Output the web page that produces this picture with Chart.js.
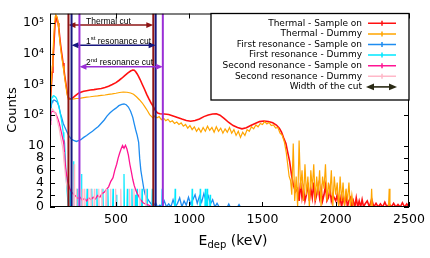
<!DOCTYPE html>
<html>
<head>
<meta charset="utf-8">
<script src="https://cdn.jsdelivr.net/npm/chart.js@4/dist/chart.umd.min.js"></script>
<style>
  html, body { margin: 0; padding: 0; background: #fff; }
  #wrap { width: 430px; height: 258px; }
</style>
</head>
<body>
<div id="wrap"><canvas id="grafico"></canvas></div>
<script>
// ---- data: [E_dep (keV), counts] ----
const thermalSampleOn = [[50,160],[55,420],[60,1000],[65,2500],[70,6000],[75,14000],[80,40000],[85,110000],[90,165000],[95,160000],[100,135000],[105,100000],[110,70000],[116,36000],[122,20000],[128,12000],[134,7500],[139,5000],[145,3200],[150,2000],[156,1300],[162,830],[167,560],[172,420],[180,350],[190,340],[200,350],[215,400],[230,460],[245,520],[260,560],[280,600],[300,630],[325,660],[350,680],[375,710],[400,740],[425,800],[450,880],[475,1000],[500,1150],[520,1350],[540,1600],[560,1950],[580,2350],[600,2750],[615,2950],[625,2900],[635,2600],[645,2200],[655,1800],[665,1450],[680,1000],[695,700],[710,480],[725,340],[740,250],[755,190],[770,140],[785,118],[800,112],[830,110],[860,105],[890,95],[920,85],[950,75],[980,67],[1010,64],[1040,67],[1070,75],[1100,90],[1130,102],[1160,110],[1185,112],[1210,100],[1240,78],[1270,58],[1300,46],[1330,40],[1360,36],[1390,39],[1420,46],[1450,54],[1480,62],[1510,65],[1540,62],[1570,57],[1595,48],[1615,38],[1630,28],[1645,18],[1660,12],[1672,9],[1685,7.5],[1700,5],[1712,3.5],[1725,2.5],[1740,3],[1750,1],[1760,4],[1770,1.5],[1780,3],[1790,1],[1800,2],[1810,4],[1820,1],[1830,3],[1840,1.5],[1850,4],[1860,1],[1870,2],[1880,3.5],[1890,1.5],[1900,3],[1910,1],[1920,2],[1930,3.5],[1940,1],[1950,1.5],[1960,3],[1970,1],[1980,2],[1990,1.5],[2000,1],[2010,2],[2020,0.5],[2030,1.5],[2040,0],[2050,1.5],[2060,0.5],[2070,2],[2080,0],[2090,1],[2100,1.5],[2110,0],[2120,1],[2130,0],[2140,1.5],[2150,0],[2160,1],[2170,0],[2180,1.2],[2190,0],[2200,0.5],[2215,1],[2230,0],[2245,1.3],[2260,0],[2275,0.6],[2290,0],[2305,0.5],[2320,0],[2335,0.8],[2350,0],[2365,0.5],[2380,0],[2395,0.6],[2410,0],[2425,0.4],[2440,0],[2455,0.7],[2470,0],[2485,0.5],[2500,0]];

const thermalDummy = [[50,180],[55,600],[60,1500],[65,4000],[70,10000],[75,30000],[80,80000],[85,160000],[90,185000],[95,170000],[100,140000],[105,100000],[110,62000],[116,30000],[122,16000],[128,9500],[134,6000],[139,4000],[145,2600],[150,1700],[156,1050],[162,680],[167,470],[172,380],[180,340],[190,330],[200,335],[215,340],[230,350],[245,355],[260,362],[280,375],[300,390],[325,400],[350,415],[375,425],[400,440],[425,455],[450,475],[475,495],[500,520],[525,550],[550,570],[575,560],[600,530],[620,480],[640,400],[660,320],[680,250],[700,180],[715,140],[730,105],[745,88],[755,80],[765,95],[780,82],[795,90],[810,72],[825,80],[840,66],[855,74],[870,60],[885,66],[900,54],[915,60],[930,50],[945,56],[960,44],[975,50],[990,38],[1005,46],[1020,34],[1035,42],[1050,30],[1065,38],[1080,28],[1095,40],[1110,30],[1125,44],[1140,32],[1155,40],[1170,28],[1185,42],[1200,30],[1215,38],[1230,26],[1245,36],[1260,28],[1275,40],[1290,26],[1305,34],[1320,22],[1335,30],[1350,19],[1365,28],[1380,22],[1395,34],[1410,30],[1425,42],[1440,36],[1455,48],[1470,42],[1485,54],[1500,50],[1515,62],[1530,52],[1545,58],[1560,46],[1575,48],[1590,38],[1605,40],[1620,26],[1635,22],[1650,13],[1662,9],[1672,7],[1682,5],[1692,4.3],[1700,2],[1710,12],[1720,1],[1730,5],[1740,0],[1750,15],[1760,3],[1770,6],[1780,1],[1790,7],[1800,2],[1810,5],[1820,0],[1830,6],[1840,3],[1850,7],[1860,1],[1870,5],[1880,2],[1890,6],[1900,0],[1910,5],[1920,3],[1930,7],[1940,1],[1950,4],[1960,2],[1970,6],[1980,0],[1990,5],[2000,2],[2010,4],[2020,0],[2030,5],[2040,1],[2050,4],[2060,0],[2070,3],[2080,1],[2090,4],[2100,0],[2110,2],[2120,0],[2240,0],[2245,3],[2250,0],[2360,0],[2365,3],[2370,0],[2500,0]];

const firstResSampleOn = [[50,70],[55,150],[60,220],[65,270],[70,300],[75,310],[80,310],[85,300],[90,290],[96,280],[102,250],[110,200],[116,150],[122,110],[128,90],[134,70],[140,55],[150,42],[160,33],[170,26],[180,21],[190,18],[200,16],[215,15],[230,14],[245,15],[260,16],[280,19],[300,22],[320,26],[340,30],[360,36],[380,43],[400,55],[420,70],[440,95],[460,120],[480,145],[500,170],[520,205],[540,225],[555,232],[570,220],[585,185],[600,135],[615,85],[625,52],[635,33],[645,22],[655,13],[662,8],[670,6],[680,4.5],[690,3],[700,2],[712,1.5],[725,1],[740,0.5],[755,0],[770,0.7],[785,0],[800,0.3],[815,0],[830,1],[845,0],[860,0.5],[875,0],[890,1.2],[905,0],[920,0.6],[935,1.5],[950,0],[965,1],[980,0.3],[995,1.6],[1010,0.5],[1025,1.2],[1040,2],[1055,0.6],[1070,1.8],[1085,0.8],[1100,2.2],[1115,1],[1130,1.8],[1145,0.5],[1160,1.2],[1175,0],[1190,0.6],[1205,0],[1260,0],[1270,0.5],[1280,0],[1330,0],[1340,0.4],[1350,0]];

const firstResDummy = [[50,100],[55,220],[60,330],[65,390],[70,420],[75,430],[80,420],[85,400],[90,380],[96,340],[102,280],[110,200],[116,140],[122,100],[128,70],[134,45],[140,28],[145,18],[150,12],[155,8],[160,5],[165,3],[170,1.5],[175,0],[185,0],[188,3],[191,0],[209,0],[212,7.5],[215,0],[232,0],[235,3],[238,0],[262,0],[265,5.4],[268,0],[300,0],[303,3],[306,0],[332,0],[335,3],[338,0],[367,0],[370,3],[373,0],[408,0],[411,3],[414,0],[442,0],[445,3],[448,0],[477,0],[480,3],[483,0],[500,0],[503,2],[506,0],[552,0],[555,5.4],[558,0],[575,0],[578,3],[581,0],[606,0],[609,3],[612,0],[630,0],[633,2],[636,0],[641,0],[644,3],[647,0],[675,0],[678,3],[681,0],[709,0],[712,3],[715,0],[745,0],[748,3],[751,0],[812,0],[815,3],[818,0],[901,0],[904,3],[907,0],[1017,0],[1020,3],[1023,0],[1072,0],[1075,3],[1078,0],[1107,0],[1110,3],[1113,0],[1120,0],[1123,3],[1126,0],[1140,0],[1143,2],[1146,0]];

const secondResSampleOn = [[50,50],[55,100],[60,125],[65,135],[70,135],[75,130],[80,128],[85,120],[90,110],[96,95],[102,80],[110,62],[116,48],[122,36],[128,27],[134,20],[140,15],[145,11],[150,8.5],[156,6.5],[162,5.5],[168,4.5],[175,3.8],[185,3],[195,2.5],[210,2.1],[225,1.8],[240,1.4],[255,1.6],[270,1.1],[285,1.4],[300,1],[315,1.5],[330,1.2],[345,1.6],[360,1.3],[375,1.9],[390,1.6],[405,2.2],[420,2.4],[435,2.9],[450,3.3],[465,4.2],[480,4.8],[492,6],[505,7],[515,8],[525,8.8],[535,9.5],[545,10.3],[555,9.6],[565,10.5],[575,9.5],[585,8.5],[595,7],[605,5.8],[615,4.5],[625,3.5],[635,2.8],[645,2.2],[655,1.8],[665,1.3],[675,1],[685,0.7],[700,0.5],[715,0.4],[733,0.2],[750,0],[790,0]];

const secondResDummy = [[50,80],[55,140],[60,160],[65,160],[70,150],[75,140],[80,130],[85,115],[90,100],[96,80],[102,60],[110,42],[116,30],[122,20],[128,14],[134,10.5],[140,9],[145,7.5],[150,6.5],[156,5],[162,4],[168,3],[174,1.5],[180,0],[195,0],[198,3],[201,0],[212,0],[215,7],[218,0],[228,0],[231,3],[234,0],[246,0],[249,3],[252,0],[268,0],[271,3],[274,0],[284,0],[287,3],[290,0],[310,0],[313,3],[316,0],[326,0],[329,3],[332,0],[350,0],[353,3],[356,0],[380,0],[383,3],[386,0],[400,0],[403,3],[406,0],[430,0],[433,3],[436,0],[460,0],[463,3],[466,0],[495,0],[498,3],[501,0],[530,0],[533,3],[536,0],[590,0],[593,3],[596,0],[620,0],[623,3],[626,0],[660,0],[663,3],[666,0],[700,0],[703,3],[706,0],[720,0]];

const seriesNames = ['Thermal - Sample on', 'Thermal - Dummy', 'First resonance - Sample on', 'First resonance - Dummy', 'Second resonance - Sample on', 'Second resonance - Dummy'];
const seriesData = [thermalSampleOn, thermalDummy, firstResSampleOn, firstResDummy, secondResSampleOn, secondResDummy];

// energy cuts (keV)
const cutNames = [['Thermal cut', '', ''], ['1', 'st', ' resonance cut'], ['2', 'nd', ' resonance cut']];
const cutStart = [176, 197, 251];
const cutEnd = [755, 771, 820];

const energyTicks = [500, 1000, 1500, 2000, 2500];
const countTicks = [0, 2, 4, 6, 8, 10, 1e2, 1e3, 1e4, 1e5];

// ---- styles ----
const seriesColors = ['#ff1010', '#ffa500', '#1e8cf0', '#00e8ff', '#ff1493', '#ffb8c8'];
const seriesWidths = [1.6, 1.2, 1.3, 1.2, 1.3, 1.2];
const cutColors = ['#8e1414', '#16167e', '#9a2fd6'];
const arrowCounts = [86000, 19000, 3800];
const supDigits = { 2: '\u00b2', 3: '\u00b3', 4: '\u2074', 5: '\u2075' };

// linear from 0 to 10, logarithmic above (as in the gnuplot figure)
class HybridLogScale extends Chart.Scale {
    static id = 'hybridLog';
    static defaults = {};
    determineDataLimits() {
        this.min = this.options.min;
        this.max = this.options.max;
    }
    buildTicks() {
        return countTicks.map(v => ({ value: v }));
    }
    toUnits(v) {
        const lim = this.options.linearLimit, dec = this.options.decadeSpan;
        return v <= lim ? v : lim + dec * Math.log10(v / lim);
    }
    fromUnits(u) {
        const lim = this.options.linearLimit, dec = this.options.decadeSpan;
        return u <= lim ? u : lim * Math.pow(10, (u - lim) / dec);
    }
    configure() {
        super.configure();
        this._u0 = this.toUnits(this.min);
        this._uSpan = this.toUnits(this.max) - this._u0;
    }
    getPixelForValue(v) {
        return this.getPixelForDecimal((this.toUnits(v) - this._u0) / this._uSpan);
    }
    getValueForPixel(p) {
        return this.fromUnits(this._u0 + this.getDecimalForPixel(p) * this._uSpan);
    }
    getLabelForValue(v) {
        return String(v);
    }
}
Chart.register(HybridLogScale);

function drawArrow(ctx, x1, x2, y, color, head, lw) {
    ctx.strokeStyle = color;
    ctx.fillStyle = color;
    ctx.lineWidth = lw;
    ctx.beginPath();
    ctx.moveTo(x1 + head * 0.8, y);
    ctx.lineTo(x2 - head * 0.8, y);
    ctx.stroke();
    [[x1, 1], [x2, -1]].forEach(([x, d]) => {
        ctx.beginPath();
        ctx.moveTo(x, y);
        ctx.lineTo(x + d * head, y - head * 0.42);
        ctx.lineTo(x + d * head, y + head * 0.42);
        ctx.closePath();
        ctx.fill();
    });
}

const gnuplotLook = {
    id: 'gnuplotLook',
    afterDatasetsDraw(chart) {
        const { ctx, chartArea: a, scales: { x, y } } = chart;
        ctx.save();
        ctx.beginPath();
        ctx.rect(a.left, a.top, a.right - a.left, a.bottom - a.top);
        ctx.clip();
        cutStart.forEach((e0, i) => {
            const x0 = x.getPixelForValue(e0), x1 = x.getPixelForValue(cutEnd[i]);
            ctx.strokeStyle = cutColors[i];
            ctx.lineWidth = 2;
            [x0, x1].forEach(px => {
                ctx.beginPath();
                ctx.moveTo(px, a.top);
                ctx.lineTo(px, a.bottom);
                ctx.stroke();
            });
            const ay = y.getPixelForValue(arrowCounts[i]);
            drawArrow(ctx, x0, x1, ay, cutColors[i], 7, 1.5);
            // label with optional superscript
            const [base, sup, rest] = cutNames[i];
            let tx = 86;
            const by = ay - 1.5;
            ctx.fillStyle = '#000';
            ctx.textBaseline = 'alphabetic';
            ctx.textAlign = 'left';
            ctx.font = '8.5px "Liberation Sans"';
            ctx.fillText(base, tx, by);
            tx += ctx.measureText(base).width;
            if (sup) {
                ctx.font = '6px "Liberation Sans"';
                ctx.fillText(sup, tx, by - 3.5);
                tx += ctx.measureText(sup).width;
                ctx.font = '8.5px "Liberation Sans"';
                ctx.fillText(rest, tx, by);
            }
        });
        ctx.restore();
    },
    afterDraw(chart) {
        const { ctx, chartArea: a, scales: { x, y } } = chart;
        ctx.save();
        // frame and mirrored inward ticks
        ctx.strokeStyle = '#000';
        ctx.lineWidth = 1;
        ctx.strokeRect(a.left + 0.5, a.top + 0.5, a.right - a.left - 1, a.bottom - a.top - 1);
        ctx.beginPath();
        energyTicks.forEach(v => {
            const px = Math.round(x.getPixelForValue(v)) + 0.5;
            ctx.moveTo(px, a.bottom); ctx.lineTo(px, a.bottom - 5);
            ctx.moveTo(px, a.top); ctx.lineTo(px, a.top + 5);
        });
        countTicks.forEach(v => {
            const py = Math.round(y.getPixelForValue(v)) + 0.5;
            ctx.moveTo(a.left, py); ctx.lineTo(a.left + 5, py);
            ctx.moveTo(a.right, py); ctx.lineTo(a.right - 5, py);
        });
        ctx.stroke();

        // legend box
        const bx0 = 211, bx1 = a.right, by0 = a.top, by1 = 100;
        ctx.fillStyle = '#fff';
        ctx.fillRect(bx0, by0, bx1 - bx0, by1 - by0);
        ctx.lineWidth = 1.3;
        ctx.strokeStyle = '#000';
        ctx.strokeRect(bx0, by0, bx1 - bx0, by1 - by0);
        ctx.font = '9px "DejaVu Sans"';
        ctx.textAlign = 'right';
        ctx.textBaseline = 'middle';
        const rowY = i => 23.3 + i * 10.6;
        chart.data.datasets.forEach((ds, i) => {
            const ry = rowY(i);
            ctx.fillStyle = '#000';
            ctx.fillText(ds.label, 362, ry);
            ctx.strokeStyle = ds.borderColor;
            ctx.lineWidth = 1.5;
            ctx.beginPath();
            ctx.moveTo(368, ry); ctx.lineTo(396, ry);
            ctx.moveTo(382, ry - 2.5); ctx.lineTo(382, ry + 2.5);
            ctx.stroke();
        });
        const wy = rowY(6);
        ctx.fillStyle = '#000';
        ctx.fillText('Width of the cut', 362, wy);
        drawArrow(ctx, 366, 397, wy, '#2a2a14', 8, 1.6);

        // axis titles
        ctx.fillStyle = '#000';
        ctx.textAlign = 'center';
        ctx.textBaseline = 'middle';
        ctx.save();
        ctx.translate(13, 110);
        ctx.rotate(-Math.PI / 2);
        ctx.font = '13px "DejaVu Sans"';
        ctx.fillText('Counts', 0, 0);
        ctx.restore();
        ctx.textAlign = 'left';
        ctx.textBaseline = 'alphabetic';
        ctx.font = '14px "DejaVu Sans"';
        const wE = ctx.measureText('E').width;
        const wRest = ctx.measureText(' (keV)').width;
        ctx.font = '10px "DejaVu Sans"';
        const wSub = ctx.measureText('dep').width;
        let tx = 233 - (wE + wSub + wRest) / 2;
        ctx.font = '14px "DejaVu Sans"';
        ctx.fillText('E', tx, 245);
        tx += wE;
        ctx.font = '10px "DejaVu Sans"';
        ctx.fillText('dep', tx, 248);
        tx += wSub;
        ctx.font = '14px "DejaVu Sans"';
        ctx.fillText(' (keV)', tx, 245);
        ctx.restore();
    }
};

Chart.defaults.font.family = '"DejaVu Sans"';
Chart.defaults.color = '#000';

const ctxGrafico = document.getElementById('grafico').getContext('2d');
new Chart(ctxGrafico, {
    type: 'line',
    data: {
        datasets: seriesData.map((d, i) => ({
            label: seriesNames[i],
            data: d.map(([e, n]) => ({ x: e, y: n })),
            borderColor: seriesColors[i],
            borderWidth: seriesWidths[i],
            pointRadius: 0,
            tension: 0,
            fill: false,
            order: seriesData.length - i
        }))
    },
    options: {
        responsive: true,
        maintainAspectRatio: false,
        animation: false,
        layout: { padding: { top: 13, right: 21, left: 0, bottom: 0 } },
        plugins: {
            legend: { display: false },
            tooltip: { enabled: false }
        },
        scales: {
            x: {
                type: 'linear',
                min: 50,
                max: 2500,
                grid: { display: false, drawTicks: false },
                border: { display: false },
                ticks: { font: { size: 12.5 }, padding: 5, maxRotation: 0, autoSkip: false, callback: v => String(v) },
                afterBuildTicks: s => { s.ticks = energyTicks.map(v => ({ value: v })); },
                afterFit: s => { s.height = 51; }
            },
            y: {
                type: 'hybridLog',
                position: 'left',
                min: 0,
                max: 205000,
                linearLimit: 10,
                decadeSpan: 5.03,
                grid: { display: false, drawTicks: false },
                border: { display: false },
                ticks: {
                    font: { size: 12.5 },
                    padding: 6,
                    autoSkip: false,
                    callback: v => v <= 10 ? String(v) : '10' + supDigits[Math.round(Math.log10(v))]
                },
                afterFit: s => { s.width = 50; }
            }
        }
    },
    plugins: [gnuplotLook]
});
</script>
</body>
</html>
